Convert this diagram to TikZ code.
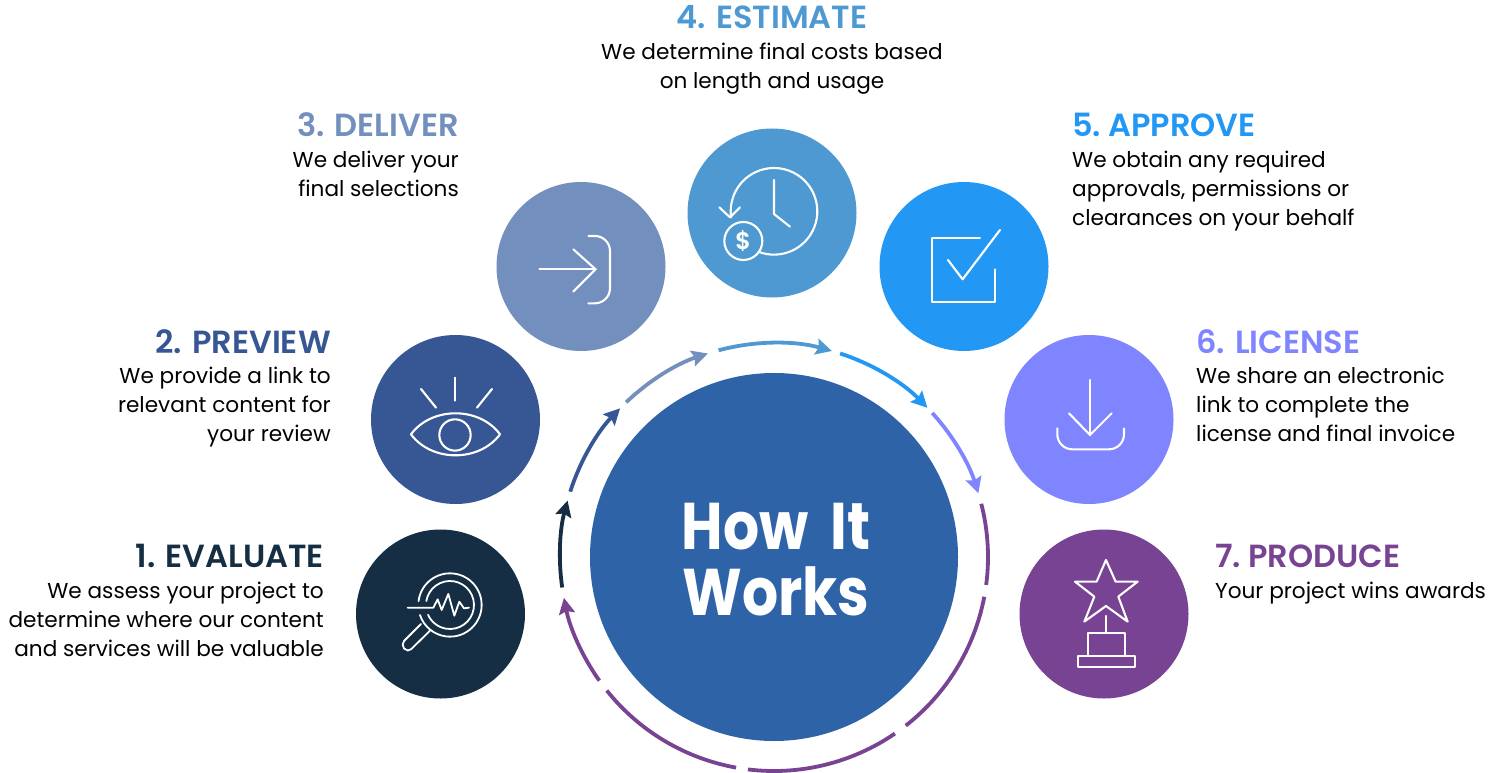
\documentclass[tikz,border=0pt]{standalone}
\usepackage{fontspec}
\setmainfont{Poppins}
\newfontfamily\headfont{Poppins SemiBold}
\newfontfamily\hubfont[FakeStretch=0.86]{Poppins Bold}
\usetikzlibrary{arrows.meta,calc}
\definecolor{cNavy}{HTML}{152E43}
\definecolor{cBlue}{HTML}{375694}
\definecolor{cSteel}{HTML}{728FBD}
\definecolor{cSky}{HTML}{4F99D3}
\definecolor{cBright}{HTML}{2297F3}
\definecolor{cPeri}{HTML}{7F84FF}
\definecolor{cPurple}{HTML}{784392}
\definecolor{cHub}{HTML}{2F63A8}
\tikzset{
  x=1pt,y=-1pt,
  stepdisc/.style={circle,inner sep=0pt,minimum size=169pt},
  hubdisc/.style={circle,fill=cHub,inner sep=0pt,minimum size=368pt},
  hubtext/.style={inner sep=0pt,text=white,align=center,font=\hubfont\fontsize{66}{66}\selectfont},
  ringseg/.style={line width=3.8pt},
  ringarrow/.style={line width=3.8pt,-{Stealth[length=16pt,width=16pt,inset=2.5pt]}},
  glyph/.style={draw=white,line width=2.1pt,line cap=round,line join=round,fill=none},
  thinglyph/.style={glyph,line width=1.8pt},
  headtext/.style={inner sep=0pt,font=\headfont\fontsize{32}{32}\selectfont},
  bodyr/.style={inner sep=0pt,align=right,anchor=north east,font=\fontsize{21.6}{29}\selectfont},
  bodyl/.style={inner sep=0pt,align=left,anchor=north west,font=\fontsize{21.6}{29}\selectfont},
  bodyc/.style={inner sep=0pt,align=center,anchor=north,font=\fontsize{21.6}{29}\selectfont},
}
\newcommand{\ringpart}[5]{% style colour start end id
  \coordinate (r#5) at ($(hub)+(#3:214pt)$);
  \draw[#1,draw=#2] (r#5) arc[start angle=#3,end angle=#4,radius=214pt];
}
\begin{document}
\begin{tikzpicture}
\useasboundingbox (0,0) rectangle (1491,773);
\node[hubdisc] (hub) at (774,557) {};
\node[hubtext] (hubt) at (776,560) {How\hspace{10pt} It\\Works};
\node[stepdisc,fill=cNavy] (d1) at (440.5,614) {};
\node[stepdisc,fill=cBlue] (d2) at (455.5,419.5) {};
\node[stepdisc,fill=cSteel] (d3) at (581,266.5) {};
\node[stepdisc,fill=cSky] (d4) at (772,213) {};
\node[stepdisc,fill=cBright] (d5) at (964,266.5) {};
\node[stepdisc,fill=cPeri] (d6) at (1089,419.5) {};
\node[stepdisc,fill=cPurple] (d7) at (1104,614) {};
% ring
\ringpart{ringarrow}{cNavy}{188.2}{164.7}{a}
\ringpart{ringarrow}{cBlue}{162.2}{136}{b}
\ringpart{ringarrow}{cSteel}{133.7}{108}{c}
\ringpart{ringarrow}{cSky}{105}{74.3}{d}
\ringpart{ringarrow}{cBright}{72}{44.2}{e}
\ringpart{ringarrow}{cPeri}{42.3}{17.3}{f}
\ringpart{ringseg}{cPurple}{14.4}{-7.5}{g}
\ringpart{ringseg}{cPurple}{-10.7}{-52}{h}
\ringpart{ringseg}{cPurple}{-55.6}{-97}{i}
\ringpart{ringseg}{cPurple}{-100.2}{-141.4}{j}
\ringpart{ringarrow}{cPurple}{-144.7}{-169}{k}
% icon 1: magnifier
\begin{scope}[shift={(340,500)},scale=0.3333]
\draw[thinglyph] (330,315)++(187:95) arc[start angle=187,end angle=521.6,radius=95];
\draw[thinglyph] (330,315)++(189.5:72) arc[start angle=189.5,end angle=516,radius=72];
\draw[thinglyph] (203,323)--(280,323)--(293,298)--(305,330)--(325,282)--(343,347)--(358,305)--(372,325)--(387,323);
\draw[thinglyph,rounded corners=5] (243,372)--(182,433)--(203,458)--(270,392);
\end{scope}
% icon 2: eye
\begin{scope}[shift={(360,170)},scale=0.3333]
\draw[glyph] (285,623)--(285,692);
\draw[glyph] (183,657)--(228,713);
\draw[glyph] (396,657)--(351,713);
\draw[glyph] (153,793) .. controls (215,709) and (358,709) .. (420,793) .. controls (358,877) and (215,877) .. cycle;
\draw[glyph] (285,795) circle[radius=47];
\end{scope}
% icon 3: enter
\begin{scope}[shift={(360,170)},scale=0.3333]
\draw[glyph] (538,298)--(707,298);
\draw[glyph] (640,238)--(707,298)--(640,365);
\draw[glyph,rounded corners=15] (685,198)--(750,198)--(750,400)--(685,400);
\end{scope}
% icon 4: clock
\begin{scope}[shift={(600,120)},scale=0.3333]
\draw[glyph] (522,274)++(110.9:130) arc[start angle=110.9,end angle=-188,radius=130];
\draw[glyph] (358,262)--(390,292)--(420,262);
\draw[glyph] (522,180)--(522,282)--(570,320);
\draw[glyph] (430,363) circle[radius=57];
\node[text=white,inner sep=0pt,font=\headfont\fontsize{24}{24}\selectfont] (dollar) at (430,364) {\$};
\end{scope}
% icon 5: check
\begin{scope}[shift={(600,120)},scale=0.3333]
\draw[glyph] (1140,355)--(995,355)--(995,545)--(1185,545)--(1185,448);
\draw[glyph] (1044,420)--(1088,478)--(1200,330);
\end{scope}
% icon 6: download
\begin{scope}[shift={(900,330)},scale=0.3333]
\draw[glyph] (570,150)--(570,315);
\draw[glyph] (507,250)--(570,315)--(635,250);
\draw[glyph,rounded corners=15] (472,295)--(472,358)--(672,358)--(672,295);
\end{scope}
% icon 7: trophy
\begin{scope}[shift={(900,330)},scale=0.3333]
\draw[glyph] (618,690)--(647,755)--(713,755)--(655,800)--(683,875)--(618,828)--(553,875)--(583,800)--(525,755)--(590,755)--cycle;
\draw[glyph] (618,858)--(618,908);
\draw[glyph] (563,978) rectangle (675,908);
\draw[glyph] (533,1010) rectangle (705,978);
\end{scope}
% texts
\node[headtext,anchor=base east,text=cNavy] (t1) at (324,567) {1. EVALUATE};
\node[bodyr] (b1) at (324,581.5) {We assess your project to\\determine where our content\\and services will be valuable};
\node[headtext,anchor=base east,text=cBlue] (t2) at (331,353) {2. PREVIEW};
\node[bodyr] (b2) at (331,366.5) {We provide a link to\\relevant content for\\your review};
\node[headtext,anchor=base east,text=cSteel] (t3) at (459,136) {3. DELIVER};
\node[bodyr] (b3) at (459,150.5) {We deliver your\\final selections};
\node[headtext,anchor=base,text=cSky] (t4) at (772,29) {4. ESTIMATE};
\node[bodyc] (b4) at (772,42.5) {We determine final costs based\\on length and usage};
\node[headtext,anchor=base west,text=cBright] (t5) at (1072,136) {5.\hspace{-3pt} APPROVE};
\node[bodyl] (b5) at (1072,150.5) {We obtain any required\\approvals, permissions or\\clearances on your behalf};
\node[headtext,anchor=base west,text=cPeri] (t6) at (1196,353) {6. LICENSE};
\node[bodyl] (b6) at (1196,366.5) {We share an electronic\\link to complete the\\license and final invoice};
\node[headtext,anchor=base west,text=cPurple] (t7) at (1215,567) {7.\hspace{-3pt} PRODUCE};
\node[bodyl] (b7) at (1215,581.5) {Your project wins awards};
\end{tikzpicture}
\end{document}
